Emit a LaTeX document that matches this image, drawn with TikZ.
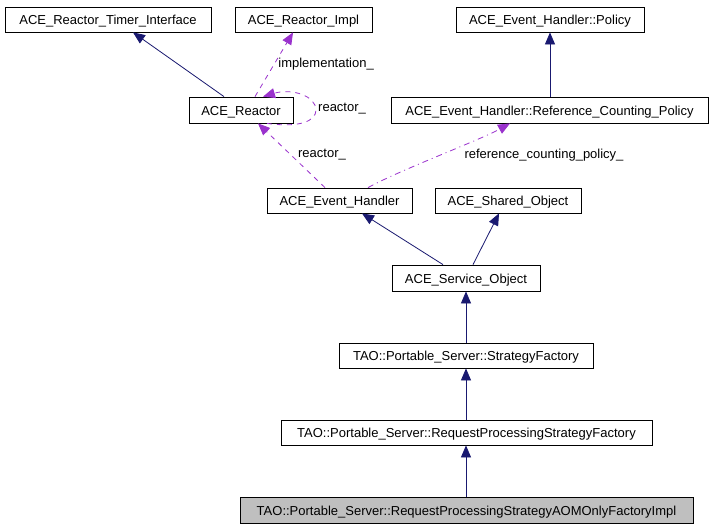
\documentclass[tikz,border=0pt]{standalone}
\usepackage{fontspec}
\setmainfont{Liberation Sans}
\usetikzlibrary{arrows.meta}
\definecolor{navyc}{HTML}{191970}
\definecolor{purplec}{HTML}{9A32CD}
\definecolor{grayfill}{HTML}{BFBFBF}
\begin{document}
\begin{tikzpicture}[x=1pt,y=-1pt,
  cls/.style={draw=black,line width=0.8pt,fill=white,inner sep=0pt,minimum height=25pt,text height=10pt,text depth=0pt,font=\fontsize{13}{15}\selectfont},
  inh/.style={draw=navyc,line width=0.8pt,-{Triangle[length=12pt,width=10pt]},color=navyc},
  use/.style={draw=purplec,line width=0.8pt,dashed,dash pattern=on 5pt off 5pt,-{Triangle[length=12pt,width=10pt]},color=purplec},
  lbl/.style={font=\fontsize{13}{15}\selectfont,inner sep=0pt,text=black}]
\useasboundingbox (0,0) rectangle (713,528);
\fill[white] (0,0) rectangle (713,528);
\node[cls,minimum width=206pt] (timer) at (108,19.5) {ACE\_Reactor\_Timer\_Interface};
\node[cls,minimum width=137pt] (impl) at (303.5,19.5) {ACE\_Reactor\_Impl};
\node[cls,minimum width=188pt] (policy) at (550,19.5) {ACE\_Event\_Handler::Policy};
\node[cls,minimum width=104pt,minimum height=26pt] (reactor) at (241,110) {ACE\_Reactor};
\node[cls,minimum width=317pt,minimum height=26pt] (rcp) at (549.5,110) {ACE\_Event\_Handler::Reference\_Counting\_Policy};
\node[cls,minimum width=145pt] (eh) at (339.5,200.5) {ACE\_Event\_Handler};
\node[cls,minimum width=146pt] (so) at (508,200.5) {ACE\_Shared\_Object};
\node[cls,minimum width=148pt,minimum height=26pt] (svc) at (466,278) {ACE\_Service\_Object};
\node[cls,minimum width=254pt] (sf) at (466,355.5) {TAO::Portable\_Server::StrategyFactory};
\node[cls,minimum width=371pt] (rpsf) at (466.5,432.5) {TAO::Portable\_Server::RequestProcessingStrategyFactory};
\node[cls,minimum width=453pt,minimum height=26pt,fill=grayfill] (aom) at (466.5,510) {TAO::Portable\_Server::RequestProcessingStrategyAOMOnlyFactoryImpl};
% inheritance
\draw[inh] ([xshift=-17pt]reactor.north) -- ([xshift=25pt]timer.south);
\draw[inh] (rcp.north -| policy.south) -- (policy.south);
\draw[inh] ([xshift=-23pt]svc.north) -- ([xshift=22.5pt]eh.south);
\draw[inh] ([xshift=7pt]svc.north) -- ([xshift=-9pt]so.south);
\draw[inh] (sf.north -| svc.south) -- (svc.south);
\draw[inh] (rpsf.north -| svc.south) -- (sf.south -| svc.south);
\draw[inh] (aom.north -| svc.south) -- (rpsf.south -| svc.south);
% usage
\draw[use] ([xshift=14pt]reactor.north) -- node[lbl,anchor=west,pos=0.5,xshift=4pt] {implementation\_} ([xshift=-10.5pt]impl.south);
\draw[use] ([xshift=26pt]reactor.south) .. controls (300,128) and (316,121) .. (316,110) .. controls (316,96) and (292,88) .. ([xshift=22pt]reactor.north);
\node[lbl,anchor=west] (lblself) at (318,109) {reactor\_};
\draw[use] ([xshift=-14.5pt]eh.north) -- ([xshift=17pt]reactor.south);
\node[lbl] (lblr) at (322,155) {reactor\_};
\draw[use,dash pattern=on 6pt off 4pt on 1pt off 4pt] ([xshift=28.5pt]eh.north) .. controls (400,170) and (480,140) .. ([xshift=-39.5pt]rcp.south);
\node[lbl] (lblrcp) at (544,155) {reference\_counting\_policy\_};
\end{tikzpicture}
\end{document}
